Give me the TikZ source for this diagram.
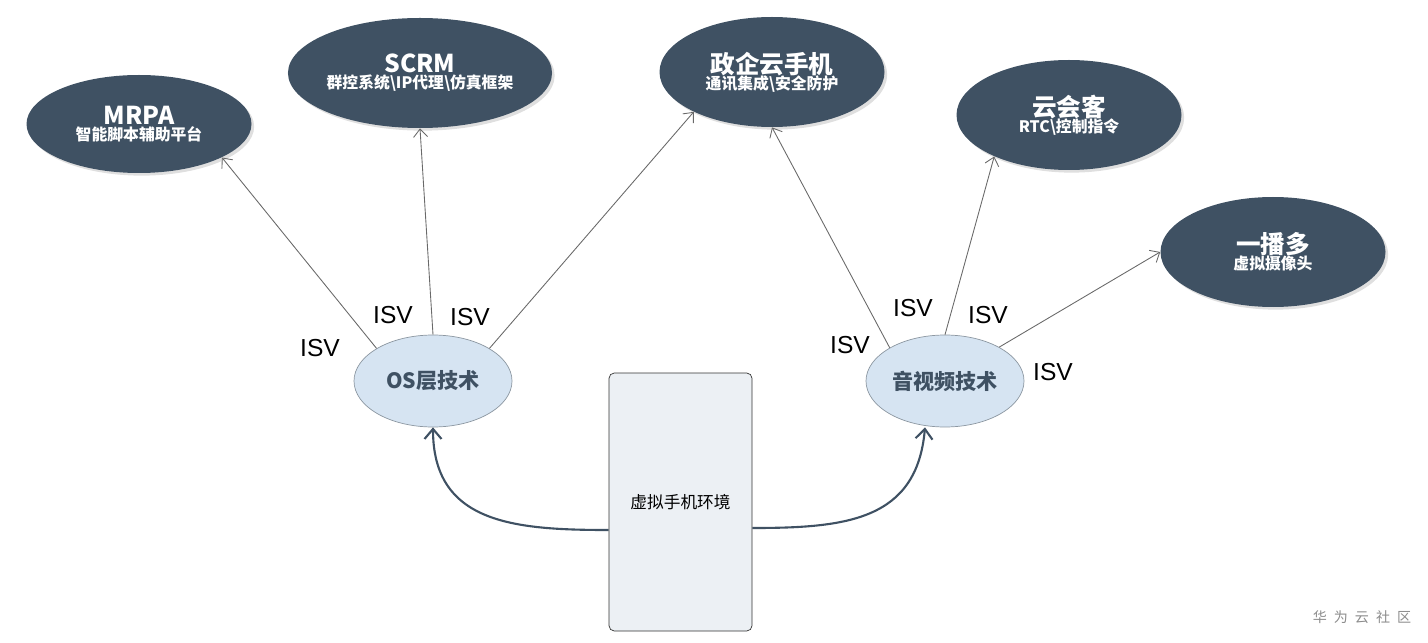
\documentclass[tikz,border=0pt]{standalone}
\usepackage{fontspec}
\setmainfont{Liberation Sans}
\newfontfamily\cjk{Noto Sans CJK SC}
\usetikzlibrary{arrows.meta,shapes.geometric,shadows}

\definecolor{slate}{RGB}{63,81,99}
\definecolor{paleblue}{RGB}{214,228,242}
\definecolor{palegray}{RGB}{236,240,244}
\definecolor{linegray}{RGB}{105,105,105}

\newcommand{\ttl}{\cjk\bfseries\fontsize{14}{16}\selectfont}
\newcommand{\sub}{\cjk\bfseries\fontsize{9}{12}\selectfont}

\begin{document}
\begin{tikzpicture}
		[app/.style= {ellipse,inner sep=0pt,minimum width=4.5cm,minimum height=2.2cm,fill=slate,text=white,align=center,
			drop shadow={shadow xshift=1.5pt,shadow yshift=-1.5pt,opacity=0.25}},
		 tech/.style= {ellipse,inner sep=0pt,minimum width=3.16cm,minimum height=1.84cm,draw=slate!60,fill=paleblue,text=slate,
			font=\cjk\bfseries\fontsize{12}{14}\selectfont},
		 env/.style= {rectangle,rounded corners=3pt,draw=black!80,fill=palegray,minimum width=2.86cm,minimum height=5.16cm,
			font=\cjk\fontsize{9.5}{11}\selectfont},
		 isv/.style= {font=\fontsize{14}{16}\selectfont},
		 branch/.style= {linegray,line width=0.5pt,-{Straight Barb[length=1.6mm,width=2.8mm]}},
		 base/.style= {slate,line width=1.2pt,-{Straight Barb[length=2mm,width=3.4mm]}}]
		
		\useasboundingbox (0,0) rectangle (28.56,12.84);
		
		% application ellipses
		\node[app,minimum height=1.96cm] (mrpa) at ( 2.78,10.36) {\ttl MRPA\\[-3pt]\sub 智能脚本辅助平台};
		\node[app] (scrm) at ( 8.40,11.38) {\ttl SCRM\\[-3pt]\sub 群控系统\textbackslash IP代理\textbackslash 仿真框架};
		\node[app] (gov) at (15.44,11.40) {\ttl 政企云手机\\[-3pt]\sub 通讯集成\textbackslash 安全防护};
		\node[app] (meet) at (21.38,10.54) {\ttl 云会客\\[-3pt]\sub RTC\textbackslash 控制指令};
		\node[app] (cast) at (25.46, 7.80) {\ttl 一播多\\[-3pt]\sub 虚拟摄像头};
		
		% technology layers
		\node[tech] (os) at ( 8.66,5.22) {OS层技术};
		\node[tech] (av) at (18.90,5.22) {音视频技术};
		
		\node[env] (phone) at (13.61,2.80) {虚拟手机环境};
		
		\path (os.150) edge[branch] (mrpa.-22)
			(os.north) edge[branch] (scrm.south)
			(os.30) edge[branch] (gov.207)
			(av.149) edge[branch] (gov.south)
			(av.north) edge[branch] (meet.209)
			(av.32) edge[branch] (cast.west)
		;
		
		\draw[base] ([yshift=-0.56cm]phone.west) to[out=180,in=-90,looseness=1.2] (os.south);
		\draw[base] ([yshift=-0.52cm]phone.east) to[out=0,in=-95,looseness=1.2] ([xshift=-0.4cm]av.south);
		
		% ISV labels
		\node[isv] (i1) at ( 6.40,5.88) {ISV};
		\node[isv] (i2) at ( 7.86,6.54) {ISV};
		\node[isv] (i3) at ( 9.40,6.50) {ISV};
		\node[isv] (i4) at (17.00,5.94) {ISV};
		\node[isv] (i5) at (18.26,6.68) {ISV};
		\node[isv] (i6) at (19.76,6.54) {ISV};
		\node[isv] (i7) at (21.06,5.40) {ISV};
		
		\node[text=black!45,font=\cjk\fontsize{8}{10}\selectfont] (mark) at (27.24,0.50)
			{华\hspace{4pt}为\hspace{4pt}云\hspace{4pt}社\hspace{4pt}区};
		
	\end{tikzpicture}
\end{document}
